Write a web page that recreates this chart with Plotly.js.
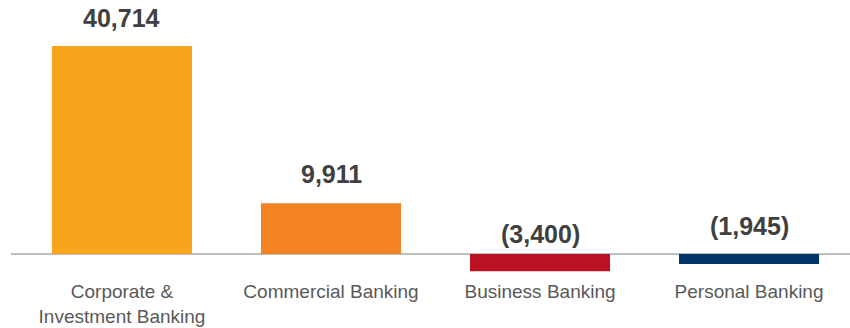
<!DOCTYPE html>
<html>
<head>
<meta charset="utf-8">
<script src="https://cdn.plot.ly/plotly-3.0.1.min.js"></script>
<style>html,body{margin:0;padding:0;background:#fff;}#chart{width:850px;height:328px;}</style>
</head>
<body>
<div id="chart"></div>
<script>
const categories = ["Corporate &<br>Investment Banking", "Commercial Banking", "Business Banking", "Personal Banking"];
const values = [40714, 9911, -3400, -1945];
const valueLabels = ["40,714", "9,911", "(3,400)", "(1,945)"];
const barColors = ["#F7A51C", "#F28222", "#BA1222", "#003366"];
const labelShift = [12, 13, 4, 12];

const annotations = categories.map((c, i) => ({
  x: c,
  y: Math.max(values[i], 0),
  xref: "x", yref: "y",
  text: valueLabels[i],
  showarrow: false,
  yanchor: "bottom",
  yshift: labelShift[i],
  font: {family: "Liberation Sans, Arial, sans-serif", size: 25, color: "#404040", weight: "bold"}
}));

const trace = {
  type: "bar",
  x: categories,
  y: values,
  marker: {color: barColors},
  hoverinfo: "none"
};

const layout = {
  width: 850, height: 328,
  margin: {l: 11, r: 0, t: 0, b: 50},
  paper_bgcolor: "#ffffff",
  plot_bgcolor: "#ffffff",
  bargap: 0.33,
  showlegend: false,
  xaxis: {
    type: "category",
    range: [-0.531, 3.483],
    showgrid: false, zeroline: false, showline: false,
    ticks: "", ticklen: 0,
    tickfont: {family: "Liberation Sans, Arial, sans-serif", size: 19, color: "#595959"},
    fixedrange: true
  },
  yaxis: {
    range: [-4698, 49716],
    showgrid: false, showticklabels: false, ticks: "",
    zeroline: true, zerolinecolor: "#BFBFBF", zerolinewidth: 2,
    showline: false, fixedrange: true
  },
  annotations: annotations
};

Plotly.newPlot("chart", [trace], layout, {displayModeBar: false, staticPlot: true});
</script>
</body>
</html>
